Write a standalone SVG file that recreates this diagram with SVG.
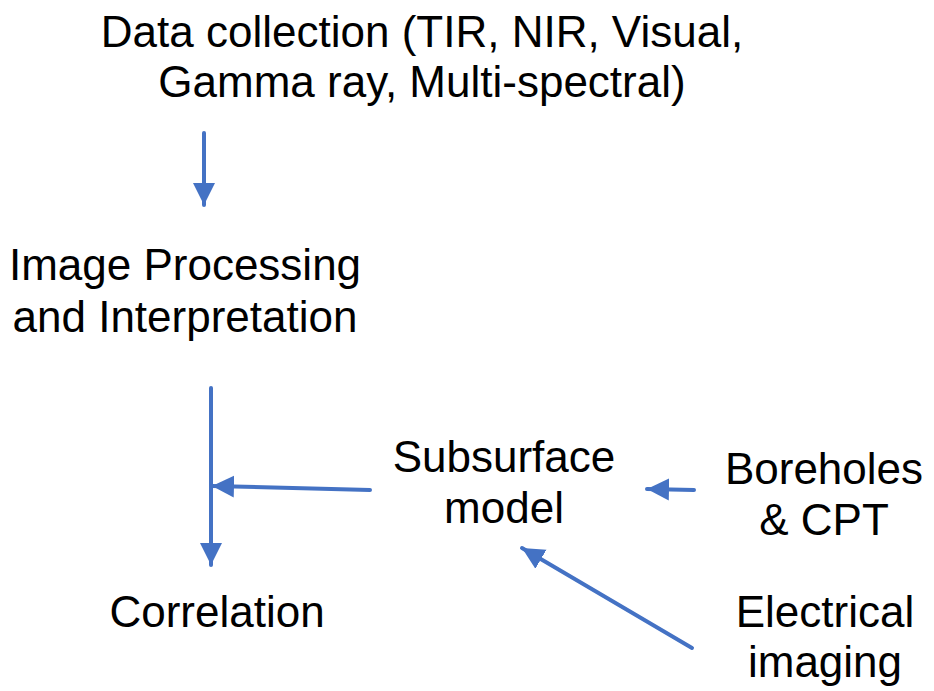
<svg xmlns="http://www.w3.org/2000/svg" width="934" height="691" viewBox="0 0 934 691">
<style>
text{font-family:"Liberation Sans",Arial,sans-serif;font-size:44px;fill:#000;text-anchor:middle}
.c{stroke:#4472C4;stroke-width:4;stroke-linecap:round;fill:none}
</style>
<defs>
<marker id="ah" markerUnits="userSpaceOnUse" markerWidth="24" markerHeight="24" refX="22" refY="11" orient="auto" viewBox="0 0 24 22">
<path d="M0,0 L22,11 L0,22 Z" fill="#4472C4"/>
</marker>
</defs>
<rect width="934" height="691" fill="#fff"/>
<g id="data"><text x="422" y="47">Data collection (TIR, NIR, Visual,</text><text x="422" y="97">Gamma ray, Multi-spectral)</text></g>
<g id="image"><text x="185" y="280">Image Processing</text><text x="185" y="332">and Interpretation</text></g>
<g id="subsurface"><text x="504" y="472">Subsurface</text><text x="504" y="523">model</text></g>
<g id="boreholes"><text x="824" y="484">Boreholes</text><text x="824" y="535">&amp; CPT</text></g>
<g id="electrical"><text x="825" y="627">Electrical</text><text x="825" y="677">imaging</text></g>
<g id="correlation"><text x="217" y="627">Correlation</text></g>
<g id="connectors">
<line class="c" x1="204" y1="133" x2="204" y2="205" marker-end="url(#ah)"/>
<line class="c" x1="211" y1="388" x2="211" y2="565" marker-end="url(#ah)"/>
<line class="c" x1="370" y1="490" x2="212" y2="486" marker-end="url(#ah)"/>
<line class="c" x1="694" y1="490" x2="647" y2="489" marker-end="url(#ah)"/>
<line class="c" x1="692" y1="648" x2="522" y2="548" marker-end="url(#ah)"/>
</g>
</svg>
